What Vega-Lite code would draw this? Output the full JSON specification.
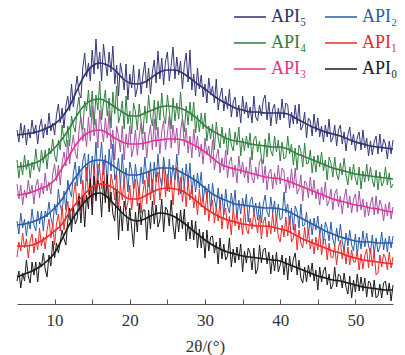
{
"$schema": "https://vega.github.io/schema/vega-lite/v6.json",
"width": 376, "height": 300,
"autosize": {"type": "none"},
"padding": {"left": 17, "top": 4, "right": 12, "bottom": 51},
"config": {"view": {"stroke": null}, "font": "Liberation Serif",
 "axis": {"labelFont": "Liberation Serif", "labelFontSize": 17, "labelColor": "#333333", "labelPadding": 13,
  "titleFont": "Liberation Serif", "titleFontSize": 17, "titleFontWeight": "normal", "titleColor": "#333333", "titlePadding": 10,
  "grid": false, "tickSize": -5, "domainColor": "#555555", "tickColor": "#555555"}},
"datasets": {
"noisy": [
{"t":5,"API₅":174,"API₄":144,"API₃":120,"API₂":83,"API₁":47,"API₀":23},
{"t":5.25,"API₅":162,"API₄":126,"API₃":105,"API₂":70,"API₁":62,"API₀":33},
{"t":5.5,"API₅":181,"API₄":142,"API₃":119,"API₂":91,"API₁":53,"API₀":16},
{"t":5.75,"API₅":166,"API₄":129,"API₃":99,"API₂":76,"API₁":71,"API₀":31},
{"t":6,"API₅":179,"API₄":149,"API₃":114,"API₂":85,"API₁":56,"API₀":23},
{"t":6.25,"API₅":159,"API₄":134,"API₃":106,"API₂":68,"API₁":65,"API₀":44},
{"t":6.5,"API₅":175,"API₄":144,"API₃":124,"API₂":83,"API₁":46,"API₀":28},
{"t":6.75,"API₅":166,"API₄":126,"API₃":110,"API₂":75,"API₁":63,"API₀":21},
{"t":7,"API₅":184,"API₄":142,"API₃":119,"API₂":95,"API₁":70,"API₀":42},
{"t":7.25,"API₅":170,"API₄":134,"API₃":100,"API₂":79,"API₁":51,"API₀":29},
{"t":7.5,"API₅":179,"API₄":155,"API₃":118,"API₂":73,"API₁":66,"API₀":42},
{"t":7.75,"API₅":160,"API₄":138,"API₃":125,"API₂":93,"API₁":54,"API₀":22},
{"t":8,"API₅":177,"API₄":132,"API₃":106,"API₂":80,"API₁":76,"API₀":42},
{"t":8.25,"API₅":185,"API₄":154,"API₃":121,"API₂":93,"API₁":58,"API₀":37},
{"t":8.5,"API₅":166,"API₄":141,"API₃":110,"API₂":73,"API₁":67,"API₀":51},
{"t":8.75,"API₅":180,"API₄":154,"API₃":131,"API₂":93,"API₁":55,"API₀":35},
{"t":9,"API₅":169,"API₄":135,"API₃":113,"API₂":87,"API₁":74,"API₀":27},
{"t":9.25,"API₅":191,"API₄":156,"API₃":122,"API₂":102,"API₁":85,"API₀":49},
{"t":9.5,"API₅":173,"API₄":150,"API₃":110,"API₂":86,"API₁":66,"API₀":38},
{"t":9.75,"API₅":181,"API₄":165,"API₃":130,"API₂":78,"API₁":81,"API₀":63},
{"t":10,"API₅":169,"API₄":149,"API₃":140,"API₂":100,"API₁":59,"API₀":46},
{"t":10.25,"API₅":189,"API₄":142,"API₃":123,"API₂":89,"API₁":80,"API₀":61},
{"t":10.5,"API₅":200,"API₄":164,"API₃":139,"API₂":115,"API₁":90,"API₀":51},
{"t":10.75,"API₅":181,"API₄":154,"API₃":119,"API₂":98,"API₁":73,"API₀":62},
{"t":11,"API₅":196,"API₄":179,"API₃":141,"API₂":92,"API₁":98,"API₀":74},
{"t":11.25,"API₅":176,"API₄":163,"API₃":152,"API₂":113,"API₁":74,"API₀":65},
{"t":11.5,"API₅":198,"API₄":157,"API₃":138,"API₂":94,"API₁":90,"API₀":59},
{"t":11.75,"API₅":208,"API₄":178,"API₃":164,"API₂":124,"API₁":103,"API₀":83},
{"t":12,"API₅":193,"API₄":158,"API₃":140,"API₂":114,"API₁":85,"API₀":96},
{"t":12.25,"API₅":220,"API₄":188,"API₃":156,"API₂":107,"API₁":79,"API₀":72},
{"t":12.5,"API₅":197,"API₄":178,"API₃":169,"API₂":131,"API₁":108,"API₀":97},
{"t":12.75,"API₅":214,"API₄":172,"API₃":151,"API₂":142,"API₁":122,"API₀":80},
{"t":13,"API₅":228,"API₄":196,"API₃":145,"API₂":118,"API₁":98,"API₀":85},
{"t":13.25,"API₅":211,"API₄":207,"API₃":174,"API₂":138,"API₁":111,"API₀":108},
{"t":13.5,"API₅":206,"API₄":183,"API₃":187,"API₂":120,"API₁":93,"API₀":81},
{"t":13.75,"API₅":236,"API₄":174,"API₃":163,"API₂":143,"API₁":124,"API₀":109},
{"t":14,"API₅":251,"API₄":203,"API₃":176,"API₂":151,"API₁":101,"API₀":77},
{"t":14.25,"API₅":227,"API₄":193,"API₃":157,"API₂":123,"API₁":137,"API₀":109},
{"t":14.5,"API₅":241,"API₄":214,"API₃":187,"API₂":150,"API₁":109,"API₀":95},
{"t":14.75,"API₅":223,"API₄":187,"API₃":163,"API₂":117,"API₁":126,"API₀":125},
{"t":15,"API₅":254,"API₄":213,"API₃":198,"API₂":148,"API₁":99,"API₀":89},
{"t":15.25,"API₅":230,"API₄":179,"API₃":168,"API₂":132,"API₁":138,"API₀":128},
{"t":15.5,"API₅":265,"API₄":209,"API₃":185,"API₂":162,"API₁":107,"API₀":103},
{"t":15.75,"API₅":235,"API₄":194,"API₃":156,"API₂":124,"API₁":140,"API₀":124},
{"t":16,"API₅":252,"API₄":223,"API₃":194,"API₂":142,"API₁":134,"API₀":116},
{"t":16.25,"API₅":223,"API₄":184,"API₃":175,"API₂":162,"API₁":115,"API₀":87},
{"t":16.5,"API₅":260,"API₄":201,"API₃":162,"API₂":129,"API₁":143,"API₀":123},
{"t":16.75,"API₅":242,"API₄":214,"API₃":186,"API₂":149,"API₁":105,"API₀":101},
{"t":17,"API₅":228,"API₄":188,"API₃":166,"API₂":119,"API₁":126,"API₀":129},
{"t":17.25,"API₅":252,"API₄":206,"API₃":193,"API₂":155,"API₁":96,"API₀":92},
{"t":17.5,"API₅":232,"API₄":176,"API₃":155,"API₂":133,"API₁":130,"API₀":112},
{"t":17.75,"API₅":258,"API₄":212,"API₃":174,"API₂":160,"API₁":120,"API₀":90},
{"t":18,"API₅":220,"API₄":190,"API₃":144,"API₂":124,"API₁":104,"API₀":83},
{"t":18.25,"API₅":239,"API₄":218,"API₃":178,"API₂":132,"API₁":130,"API₀":115},
{"t":18.5,"API₅":208,"API₄":181,"API₃":168,"API₂":146,"API₁":94,"API₀":64},
{"t":18.75,"API₅":241,"API₄":189,"API₃":152,"API₂":117,"API₁":120,"API₀":98},
{"t":19,"API₅":230,"API₄":203,"API₃":178,"API₂":150,"API₁":104,"API₀":73},
{"t":19.25,"API₅":214,"API₄":175,"API₃":144,"API₂":122,"API₁":126,"API₀":103},
{"t":19.5,"API₅":240,"API₄":208,"API₃":170,"API₂":136,"API₁":94,"API₀":92},
{"t":19.75,"API₅":204,"API₄":180,"API₃":156,"API₂":112,"API₁":102,"API₀":73},
{"t":20,"API₅":230,"API₄":193,"API₃":178,"API₂":142,"API₁":119,"API₀":96},
{"t":20.25,"API₅":216,"API₄":170,"API₃":147,"API₂":133,"API₁":94,"API₀":76},
{"t":20.5,"API₅":239,"API₄":201,"API₃":156,"API₂":115,"API₁":112,"API₀":57},
{"t":20.75,"API₅":207,"API₄":192,"API₃":174,"API₂":140,"API₁":125,"API₀":92},
{"t":21,"API₅":216,"API₄":174,"API₃":149,"API₂":122,"API₁":98,"API₀":72},
{"t":21.25,"API₅":235,"API₄":200,"API₃":167,"API₂":110,"API₁":117,"API₀":101},
{"t":21.5,"API₅":210,"API₄":182,"API₃":181,"API₂":137,"API₁":91,"API₀":79},
{"t":21.75,"API₅":229,"API₄":170,"API₃":154,"API₂":120,"API₁":112,"API₀":94},
{"t":22,"API₅":242,"API₄":198,"API₃":172,"API₂":147,"API₁":124,"API₀":94},
{"t":22.25,"API₅":216,"API₄":181,"API₃":146,"API₂":127,"API₁":100,"API₀":64},
{"t":22.5,"API₅":236,"API₄":209,"API₃":167,"API₂":117,"API₁":132,"API₀":94},
{"t":22.75,"API₅":210,"API₄":188,"API₃":179,"API₂":142,"API₁":104,"API₀":75},
{"t":23,"API₅":232,"API₄":178,"API₃":154,"API₂":112,"API₁":125,"API₀":103},
{"t":23.25,"API₅":244,"API₄":204,"API₃":185,"API₂":142,"API₁":99,"API₀":80},
{"t":23.5,"API₅":221,"API₄":174,"API₃":157,"API₂":122,"API₁":123,"API₀":99},
{"t":23.75,"API₅":253,"API₄":203,"API₃":177,"API₂":150,"API₁":132,"API₀":77},
{"t":24,"API₅":225,"API₄":184,"API₃":150,"API₂":127,"API₁":104,"API₀":84},
{"t":24.25,"API₅":246,"API₄":211,"API₃":173,"API₂":118,"API₁":120,"API₀":105},
{"t":24.5,"API₅":219,"API₄":189,"API₃":183,"API₂":147,"API₁":139,"API₀":72},
{"t":24.75,"API₅":243,"API₄":180,"API₃":154,"API₂":131,"API₁":107,"API₀":97},
{"t":25,"API₅":252,"API₄":209,"API₃":170,"API₂":113,"API₁":130,"API₀":94},
{"t":25.25,"API₅":223,"API₄":193,"API₃":188,"API₂":145,"API₁":112,"API₀":78},
{"t":25.5,"API₅":239,"API₄":175,"API₃":156,"API₂":122,"API₁":127,"API₀":104},
{"t":25.75,"API₅":257,"API₄":206,"API₃":179,"API₂":139,"API₁":99,"API₀":79},
{"t":26,"API₅":225,"API₄":183,"API₃":161,"API₂":124,"API₁":124,"API₀":65},
{"t":26.25,"API₅":247,"API₄":201,"API₃":176,"API₂":150,"API₁":137,"API₀":91},
{"t":26.5,"API₅":229,"API₄":185,"API₃":149,"API₂":124,"API₁":109,"API₀":72},
{"t":26.75,"API₅":243,"API₄":212,"API₃":173,"API₂":110,"API₁":127,"API₀":94},
{"t":27,"API₅":215,"API₄":186,"API₃":186,"API₂":136,"API₁":102,"API₀":75},
{"t":27.25,"API₅":239,"API₄":172,"API₃":158,"API₂":117,"API₁":119,"API₀":95},
{"t":27.5,"API₅":251,"API₄":198,"API₃":176,"API₂":140,"API₁":97,"API₀":63},
{"t":27.75,"API₅":222,"API₄":179,"API₃":151,"API₂":121,"API₁":125,"API₀":82},
{"t":28,"API₅":254,"API₄":202,"API₃":168,"API₂":141,"API₁":104,"API₀":65},
{"t":28.25,"API₅":214,"API₄":183,"API₃":146,"API₂":110,"API₁":118,"API₀":84},
{"t":28.5,"API₅":230,"API₄":202,"API₃":175,"API₂":129,"API₁":96,"API₀":64},
{"t":28.75,"API₅":208,"API₄":171,"API₃":154,"API₂":112,"API₁":109,"API₀":83},
{"t":29,"API₅":236,"API₄":189,"API₃":168,"API₂":131,"API₁":89,"API₀":56},
{"t":29.25,"API₅":215,"API₄":172,"API₃":147,"API₂":116,"API₁":115,"API₀":75},
{"t":29.5,"API₅":229,"API₄":191,"API₃":160,"API₂":132,"API₁":97,"API₀":56},
{"t":29.75,"API₅":207,"API₄":175,"API₃":140,"API₂":104,"API₁":107,"API₀":72},
{"t":30,"API₅":220,"API₄":191,"API₃":166,"API₂":118,"API₁":89,"API₀":46},
{"t":30.25,"API₅":201,"API₄":163,"API₃":149,"API₂":106,"API₁":113,"API₀":74},
{"t":30.5,"API₅":226,"API₄":178,"API₃":158,"API₂":120,"API₁":83,"API₀":53},
{"t":30.75,"API₅":209,"API₄":165,"API₃":141,"API₂":94,"API₁":96,"API₀":67},
{"t":31,"API₅":218,"API₄":180,"API₃":164,"API₂":121,"API₁":104,"API₀":68},
{"t":31.25,"API₅":201,"API₄":154,"API₃":134,"API₂":105,"API₁":81,"API₀":51},
{"t":31.5,"API₅":225,"API₄":182,"API₃":147,"API₂":95,"API₁":96,"API₀":62},
{"t":31.75,"API₅":194,"API₄":166,"API₃":155,"API₂":116,"API₁":83,"API₀":40},
{"t":32,"API₅":208,"API₄":156,"API₃":131,"API₂":99,"API₁":103,"API₀":66},
{"t":32.25,"API₅":216,"API₄":177,"API₃":146,"API₂":110,"API₁":75,"API₀":45},
{"t":32.5,"API₅":193,"API₄":160,"API₃":134,"API₂":89,"API₁":91,"API₀":60},
{"t":32.75,"API₅":208,"API₄":171,"API₃":154,"API₂":115,"API₁":96,"API₀":44},
{"t":33,"API₅":195,"API₄":149,"API₃":126,"API₂":98,"API₁":75,"API₀":48},
{"t":33.25,"API₅":215,"API₄":176,"API₃":142,"API₂":91,"API₁":88,"API₀":66},
{"t":33.5,"API₅":187,"API₄":159,"API₃":147,"API₂":111,"API₁":69,"API₀":37},
{"t":33.75,"API₅":202,"API₄":153,"API₃":127,"API₂":97,"API₁":97,"API₀":55},
{"t":34,"API₅":207,"API₄":172,"API₃":139,"API₂":114,"API₁":78,"API₀":41},
{"t":34.25,"API₅":187,"API₄":159,"API₃":121,"API₂":86,"API₁":91,"API₀":57},
{"t":34.5,"API₅":199,"API₄":177,"API₃":148,"API₂":104,"API₁":74,"API₀":44},
{"t":34.75,"API₅":181,"API₄":148,"API₃":130,"API₂":90,"API₁":86,"API₀":60},
{"t":35,"API₅":208,"API₄":166,"API₃":142,"API₂":106,"API₁":69,"API₀":32},
{"t":35.25,"API₅":190,"API₄":153,"API₃":126,"API₂":94,"API₁":96,"API₀":53},
{"t":35.5,"API₅":202,"API₄":168,"API₃":137,"API₂":110,"API₁":75,"API₀":41},
{"t":35.75,"API₅":186,"API₄":156,"API₃":121,"API₂":82,"API₁":70,"API₀":56},
{"t":36,"API₅":197,"API₄":171,"API₃":147,"API₂":103,"API₁":86,"API₀":51},
{"t":36.25,"API₅":181,"API₄":144,"API₃":126,"API₂":107,"API₁":75,"API₀":34},
{"t":36.5,"API₅":208,"API₄":165,"API₃":121,"API₂":91,"API₁":92,"API₀":56},
{"t":36.75,"API₅":187,"API₄":168,"API₃":137,"API₂":101,"API₁":82,"API₀":30},
{"t":37,"API₅":183,"API₄":152,"API₃":125,"API₂":84,"API₁":71,"API₀":35},
{"t":37.25,"API₅":199,"API₄":163,"API₃":142,"API₂":102,"API₁":89,"API₀":59},
{"t":37.5,"API₅":188,"API₄":146,"API₃":146,"API₂":81,"API₁":65,"API₀":41},
{"t":37.75,"API₅":204,"API₄":140,"API₃":121,"API₂":100,"API₁":82,"API₀":54},
{"t":38,"API₅":209,"API₄":165,"API₃":138,"API₂":109,"API₁":87,"API₀":56},
{"t":38.25,"API₅":184,"API₄":147,"API₃":114,"API₂":92,"API₁":67,"API₀":40},
{"t":38.5,"API₅":202,"API₄":171,"API₃":131,"API₂":87,"API₁":83,"API₀":52},
{"t":38.75,"API₅":178,"API₄":153,"API₃":135,"API₂":107,"API₁":70,"API₀":30},
{"t":39,"API₅":195,"API₄":148,"API₃":115,"API₂":91,"API₁":91,"API₀":49},
{"t":39.25,"API₅":200,"API₄":168,"API₃":131,"API₂":103,"API₁":72,"API₀":33},
{"t":39.5,"API₅":180,"API₄":152,"API₃":119,"API₂":82,"API₁":87,"API₀":52},
{"t":39.75,"API₅":196,"API₄":164,"API₃":139,"API₂":100,"API₁":67,"API₀":32},
{"t":40,"API₅":184,"API₄":143,"API₃":120,"API₂":84,"API₁":62,"API₀":39},
{"t":40.25,"API₅":205,"API₄":162,"API₃":136,"API₂":86,"API₁":79,"API₀":49},
{"t":40.5,"API₅":186,"API₄":145,"API₃":133,"API₂":112,"API₁":67,"API₀":29},
{"t":40.75,"API₅":201,"API₄":147,"API₃":111,"API₂":91,"API₁":87,"API₀":46},
{"t":41,"API₅":199,"API₄":168,"API₃":127,"API₂":100,"API₁":68,"API₀":24},
{"t":41.25,"API₅":176,"API₄":150,"API₃":115,"API₂":79,"API₁":88,"API₀":48},
{"t":41.5,"API₅":192,"API₄":160,"API₃":135,"API₂":96,"API₁":62,"API₀":32},
{"t":41.75,"API₅":180,"API₄":139,"API₃":116,"API₂":74,"API₁":66,"API₀":45},
{"t":42,"API₅":199,"API₄":156,"API₃":136,"API₂":98,"API₁":80,"API₀":51},
{"t":42.25,"API₅":180,"API₄":134,"API₃":110,"API₂":92,"API₁":54,"API₀":29},
{"t":42.5,"API₅":200,"API₄":159,"API₃":115,"API₂":76,"API₁":74,"API₀":44},
{"t":42.75,"API₅":174,"API₄":153,"API₃":129,"API₂":100,"API₁":61,"API₀":26},
{"t":43,"API₅":178,"API₄":137,"API₃":103,"API₂":78,"API₁":56,"API₀":21},
{"t":43.25,"API₅":192,"API₄":161,"API₃":123,"API₂":79,"API₁":77,"API₀":37},
{"t":43.5,"API₅":166,"API₄":140,"API₃":121,"API₂":92,"API₁":60,"API₀":22},
{"t":43.75,"API₅":186,"API₄":141,"API₃":106,"API₂":69,"API₁":74,"API₀":39},
{"t":44,"API₅":183,"API₄":154,"API₃":127,"API₂":85,"API₁":55,"API₀":27},
{"t":44.25,"API₅":168,"API₄":131,"API₃":109,"API₂":69,"API₁":65,"API₀":41},
{"t":44.5,"API₅":190,"API₄":148,"API₃":124,"API₂":86,"API₁":50,"API₀":23},
{"t":44.75,"API₅":172,"API₄":132,"API₃":105,"API₂":74,"API₁":67,"API₀":34},
{"t":45,"API₅":186,"API₄":149,"API₃":115,"API₂":88,"API₁":54,"API₀":14},
{"t":45.25,"API₅":167,"API₄":137,"API₃":99,"API₂":69,"API₁":72,"API₀":37},
{"t":45.5,"API₅":178,"API₄":152,"API₃":117,"API₂":80,"API₁":49,"API₀":22},
{"t":45.75,"API₅":162,"API₄":133,"API₃":104,"API₂":60,"API₁":64,"API₀":33},
{"t":46,"API₅":179,"API₄":144,"API₃":122,"API₂":82,"API₁":65,"API₀":37},
{"t":46.25,"API₅":167,"API₄":124,"API₃":98,"API₂":76,"API₁":44,"API₀":19},
{"t":46.5,"API₅":185,"API₄":147,"API₃":103,"API₂":63,"API₁":61,"API₀":30},
{"t":46.75,"API₅":162,"API₄":141,"API₃":115,"API₂":82,"API₁":47,"API₀":15},
{"t":47,"API₅":166,"API₄":127,"API₃":94,"API₂":65,"API₁":46,"API₀":19},
{"t":47.25,"API₅":179,"API₄":147,"API₃":110,"API₂":58,"API₁":58,"API₀":37},
{"t":47.5,"API₅":158,"API₄":130,"API₃":115,"API₂":76,"API₁":39,"API₀":17},
{"t":47.75,"API₅":174,"API₄":124,"API₃":97,"API₂":63,"API₁":56,"API₀":30},
{"t":48,"API₅":179,"API₄":141,"API₃":108,"API₂":80,"API₁":64,"API₀":28},
{"t":48.25,"API₅":160,"API₄":129,"API₃":90,"API₂":63,"API₁":45,"API₀":16},
{"t":48.5,"API₅":172,"API₄":146,"API₃":106,"API₂":53,"API₁":57,"API₀":31},
{"t":48.75,"API₅":153,"API₄":129,"API₃":115,"API₂":71,"API₁":40,"API₀":17},
{"t":49,"API₅":169,"API₄":119,"API₃":96,"API₂":58,"API₁":57,"API₀":10},
{"t":49.25,"API₅":177,"API₄":137,"API₃":108,"API₂":74,"API₁":39,"API₀":28},
{"t":49.5,"API₅":159,"API₄":124,"API₃":91,"API₂":59,"API₁":54,"API₀":6},
{"t":49.75,"API₅":170,"API₄":140,"API₃":105,"API₂":53,"API₁":42,"API₀":24},
{"t":50,"API₅":153,"API₄":125,"API₃":110,"API₂":70,"API₁":42,"API₀":12},
{"t":50.25,"API₅":167,"API₄":119,"API₃":92,"API₂":49,"API₁":53,"API₀":30},
{"t":50.5,"API₅":172,"API₄":137,"API₃":113,"API₂":67,"API₁":34,"API₀":13},
{"t":50.75,"API₅":154,"API₄":115,"API₃":94,"API₂":55,"API₁":50,"API₀":27},
{"t":51,"API₅":174,"API₄":133,"API₃":105,"API₂":73,"API₁":35,"API₀":13},
{"t":51.25,"API₅":156,"API₄":122,"API₃":87,"API₂":57,"API₁":48,"API₀":26},
{"t":51.5,"API₅":166,"API₄":140,"API₃":102,"API₂":71,"API₁":55,"API₀":7},
{"t":51.75,"API₅":148,"API₄":123,"API₃":88,"API₂":58,"API₁":36,"API₀":23},
{"t":52,"API₅":163,"API₄":137,"API₃":100,"API₂":51,"API₁":56,"API₀":21},
{"t":52.25,"API₅":149,"API₄":124,"API₃":107,"API₂":69,"API₁":38,"API₀":7},
{"t":52.5,"API₅":162,"API₄":117,"API₃":89,"API₂":49,"API₁":52,"API₀":24},
{"t":52.75,"API₅":168,"API₄":134,"API₃":108,"API₂":66,"API₁":29,"API₀":6},
{"t":53,"API₅":150,"API₄":114,"API₃":90,"API₂":52,"API₁":31,"API₀":8},
{"t":53.25,"API₅":170,"API₄":132,"API₃":104,"API₂":57,"API₁":49,"API₀":20},
{"t":53.5,"API₅":152,"API₄":118,"API₃":98,"API₂":72,"API₁":37,"API₀":6},
{"t":53.75,"API₅":165,"API₄":122,"API₃":83,"API₂":54,"API₁":50,"API₀":21},
{"t":54,"API₅":160,"API₄":137,"API₃":100,"API₂":66,"API₁":46,"API₀":23},
{"t":54.25,"API₅":145,"API₄":119,"API₃":88,"API₂":52,"API₁":34,"API₀":9},
{"t":54.5,"API₅":163,"API₄":131,"API₃":102,"API₂":68,"API₁":52,"API₀":21},
{"t":54.75,"API₅":150,"API₄":116,"API₃":85,"API₂":56,"API₁":36,"API₀":3},
{"t":55,"API₅":164,"API₄":120,"API₃":97,"API₂":68,"API₁":47,"API₀":19}
],
"smooth": [
{"t":5,"API₅":169,"API₄":137,"API₃":109,"API₂":79,"API₁":58,"API₀":27},
{"t":6,"API₅":170,"API₄":138,"API₃":110,"API₂":80,"API₁":58,"API₀":30},
{"t":7,"API₅":171,"API₄":140,"API₃":112,"API₂":82,"API₁":59,"API₀":33},
{"t":8,"API₅":173,"API₄":143,"API₃":115,"API₂":85,"API₁":62,"API₀":37},
{"t":9,"API₅":176,"API₄":149,"API₃":118,"API₂":89,"API₁":67,"API₀":43},
{"t":10,"API₅":180,"API₄":156,"API₃":124,"API₂":96,"API₁":73,"API₀":51},
{"t":11,"API₅":187,"API₄":165,"API₃":136,"API₂":105,"API₁":80,"API₀":65},
{"t":12,"API₅":198,"API₄":176,"API₃":149,"API₂":118,"API₁":92,"API₀":80},
{"t":13,"API₅":214,"API₄":189,"API₃":161,"API₂":129,"API₁":102,"API₀":92},
{"t":14,"API₅":229,"API₄":199,"API₃":169,"API₂":138,"API₁":110,"API₀":102},
{"t":15,"API₅":238,"API₄":204,"API₃":173,"API₂":143,"API₁":117,"API₀":109},
{"t":16,"API₅":241,"API₄":205,"API₃":174,"API₂":144,"API₁":120,"API₀":111},
{"t":17,"API₅":239,"API₄":202,"API₃":171,"API₂":142,"API₁":119,"API₀":107},
{"t":18,"API₅":234,"API₄":197,"API₃":166,"API₂":137,"API₁":115,"API₀":99},
{"t":19,"API₅":226,"API₄":192,"API₃":162,"API₂":132,"API₁":109,"API₀":91},
{"t":20,"API₅":221,"API₄":188,"API₃":160,"API₂":129,"API₁":105,"API₀":85},
{"t":21,"API₅":220,"API₄":188,"API₃":160,"API₂":129,"API₁":105,"API₀":83},
{"t":22,"API₅":222,"API₄":191,"API₃":161,"API₂":131,"API₁":108,"API₀":85},
{"t":23,"API₅":227,"API₄":194,"API₃":163,"API₂":134,"API₁":112,"API₀":89},
{"t":24,"API₅":232,"API₄":197,"API₃":164,"API₂":136,"API₁":115,"API₀":91},
{"t":25,"API₅":234,"API₄":198,"API₃":165,"API₂":136,"API₁":116,"API₀":90},
{"t":26,"API₅":234,"API₄":197,"API₃":165,"API₂":135,"API₁":115,"API₀":87},
{"t":27,"API₅":231,"API₄":195,"API₃":164,"API₂":131,"API₁":113,"API₀":82},
{"t":28,"API₅":226,"API₄":191,"API₃":161,"API₂":127,"API₁":108,"API₀":76},
{"t":29,"API₅":220,"API₄":185,"API₃":157,"API₂":122,"API₁":102,"API₀":70},
{"t":30,"API₅":215,"API₄":178,"API₃":152,"API₂":116,"API₁":96,"API₀":64},
{"t":31,"API₅":209,"API₄":173,"API₃":146,"API₂":110,"API₁":91,"API₀":59},
{"t":32,"API₅":204,"API₄":169,"API₃":140,"API₂":106,"API₁":87,"API₀":55},
{"t":33,"API₅":200,"API₄":165,"API₃":137,"API₂":103,"API₁":84,"API₀":52},
{"t":34,"API₅":196,"API₄":163,"API₃":135,"API₂":100,"API₁":82,"API₀":50},
{"t":35,"API₅":194,"API₄":162,"API₃":133,"API₂":99,"API₁":80,"API₀":48},
{"t":36,"API₅":192,"API₄":160,"API₃":131,"API₂":98,"API₁":79,"API₀":47},
{"t":37,"API₅":192,"API₄":159,"API₃":129,"API₂":97,"API₁":78,"API₀":46},
{"t":38,"API₅":191,"API₄":158,"API₃":127,"API₂":96,"API₁":78,"API₀":45},
{"t":39,"API₅":191,"API₄":157,"API₃":126,"API₂":96,"API₁":77,"API₀":44},
{"t":40,"API₅":191,"API₄":157,"API₃":125,"API₂":95,"API₁":75,"API₀":43},
{"t":41,"API₅":190,"API₄":155,"API₃":123,"API₂":93,"API₁":73,"API₀":40},
{"t":42,"API₅":186,"API₄":151,"API₃":120,"API₂":89,"API₁":69,"API₀":37},
{"t":43,"API₅":182,"API₄":148,"API₃":117,"API₂":85,"API₁":65,"API₀":34},
{"t":44,"API₅":178,"API₄":145,"API₃":114,"API₂":81,"API₁":62,"API₀":31},
{"t":45,"API₅":175,"API₄":142,"API₃":111,"API₂":77,"API₁":59,"API₀":28},
{"t":46,"API₅":172,"API₄":139,"API₃":108,"API₂":73,"API₁":56,"API₀":26},
{"t":47,"API₅":170,"API₄":136,"API₃":105,"API₂":70,"API₁":53,"API₀":24},
{"t":48,"API₅":168,"API₄":134,"API₃":103,"API₂":67,"API₁":51,"API₀":23},
{"t":49,"API₅":165,"API₄":132,"API₃":101,"API₂":65,"API₁":48,"API₀":21},
{"t":50,"API₅":162,"API₄":130,"API₃":99,"API₂":63,"API₁":46,"API₀":19},
{"t":51,"API₅":160,"API₄":129,"API₃":98,"API₂":62,"API₁":44,"API₀":17},
{"t":52,"API₅":158,"API₄":128,"API₃":96,"API₂":62,"API₁":43,"API₀":16},
{"t":53,"API₅":157,"API₄":127,"API₃":95,"API₂":61,"API₁":42,"API₀":15},
{"t":54,"API₅":156,"API₄":126,"API₃":93,"API₂":61,"API₁":41,"API₀":14},
{"t":55,"API₅":155,"API₄":125,"API₃":92,"API₂":61,"API₁":40,"API₀":14}
]
},
"encoding": {
"x": {"field": "t", "type": "quantitative",
 "scale": {"domain": [5, 55], "nice": false, "zero": false},
 "axis": {"title": "2θ/(°)", "values": [10, 15, 20, 25, 30, 35, 40, 45, 50],
  "labelExpr": "datum.value % 10 === 0 ? datum.label : ''",
  "encode": {"ticks": {"update": {"y2": {"signal": "datum.value % 10 === 0 ? -5 : -2"}}}}}},
"y": {"field": "v", "type": "quantitative", "scale": {"domain": [0, 300], "nice": false}, "axis": null}
},
"layer": [
{"data": {"name": "noisy"},
 "transform": [{"fold": ["API₅", "API₄", "API₃", "API₂", "API₁", "API₀"], "as": ["k", "v"]}],
 "mark": {"type": "line", "strokeWidth": 1, "interpolate": "linear"},
 "encoding": {"color": {"field": "k", "type": "nominal",
  "scale": {"domain": ["API₅", "API₄", "API₃", "API₂", "API₁", "API₀"], "range": ["#35357a", "#2f8040", "#a552a8", "#2a5caa", "#ec2a2a", "#1a1a1a"]},
  "legend": null}}},
{"data": {"name": "smooth"},
 "transform": [{"fold": ["API₅", "API₄", "API₃", "API₂", "API₁", "API₀"], "as": ["k", "v"]}],
 "mark": {"type": "line", "strokeWidth": 1.6, "interpolate": "monotone"},
 "encoding": {"color": {"field": "k", "type": "nominal",
  "scale": {"domain": ["API₅", "API₄", "API₃", "API₂", "API₁", "API₀"], "range": ["#2f2f6e", "#2f8040", "#e8308c", "#2a5caa", "#ec2a2a", "#1a1a1a"]},
  "legend": {"title": null, "orient": "none", "legendX": 216, "legendY": -4, "columns": 2,
   "symbolType": "stroke", "symbolSize": 1024, "symbolStrokeWidth": 1.5,
   "labelFont": "Liberation Serif", "labelFontSize": 18, "labelOffset": 4,
   "rowPadding": -4, "columnPadding": 15, "padding": 0,
   "encode": {"labels": {"update": {"fill": {"signal": "datum.value==='API₅'?'#2f2f6e':datum.value==='API₂'?'#2a5caa':datum.value==='API₄'?'#2f8040':datum.value==='API₁'?'#ec2a2a':datum.value==='API₃'?'#e8308c':'#1a1a1a'"}}}}}}}}
],
"resolve": {"scale": {"color": "independent"}}
}
